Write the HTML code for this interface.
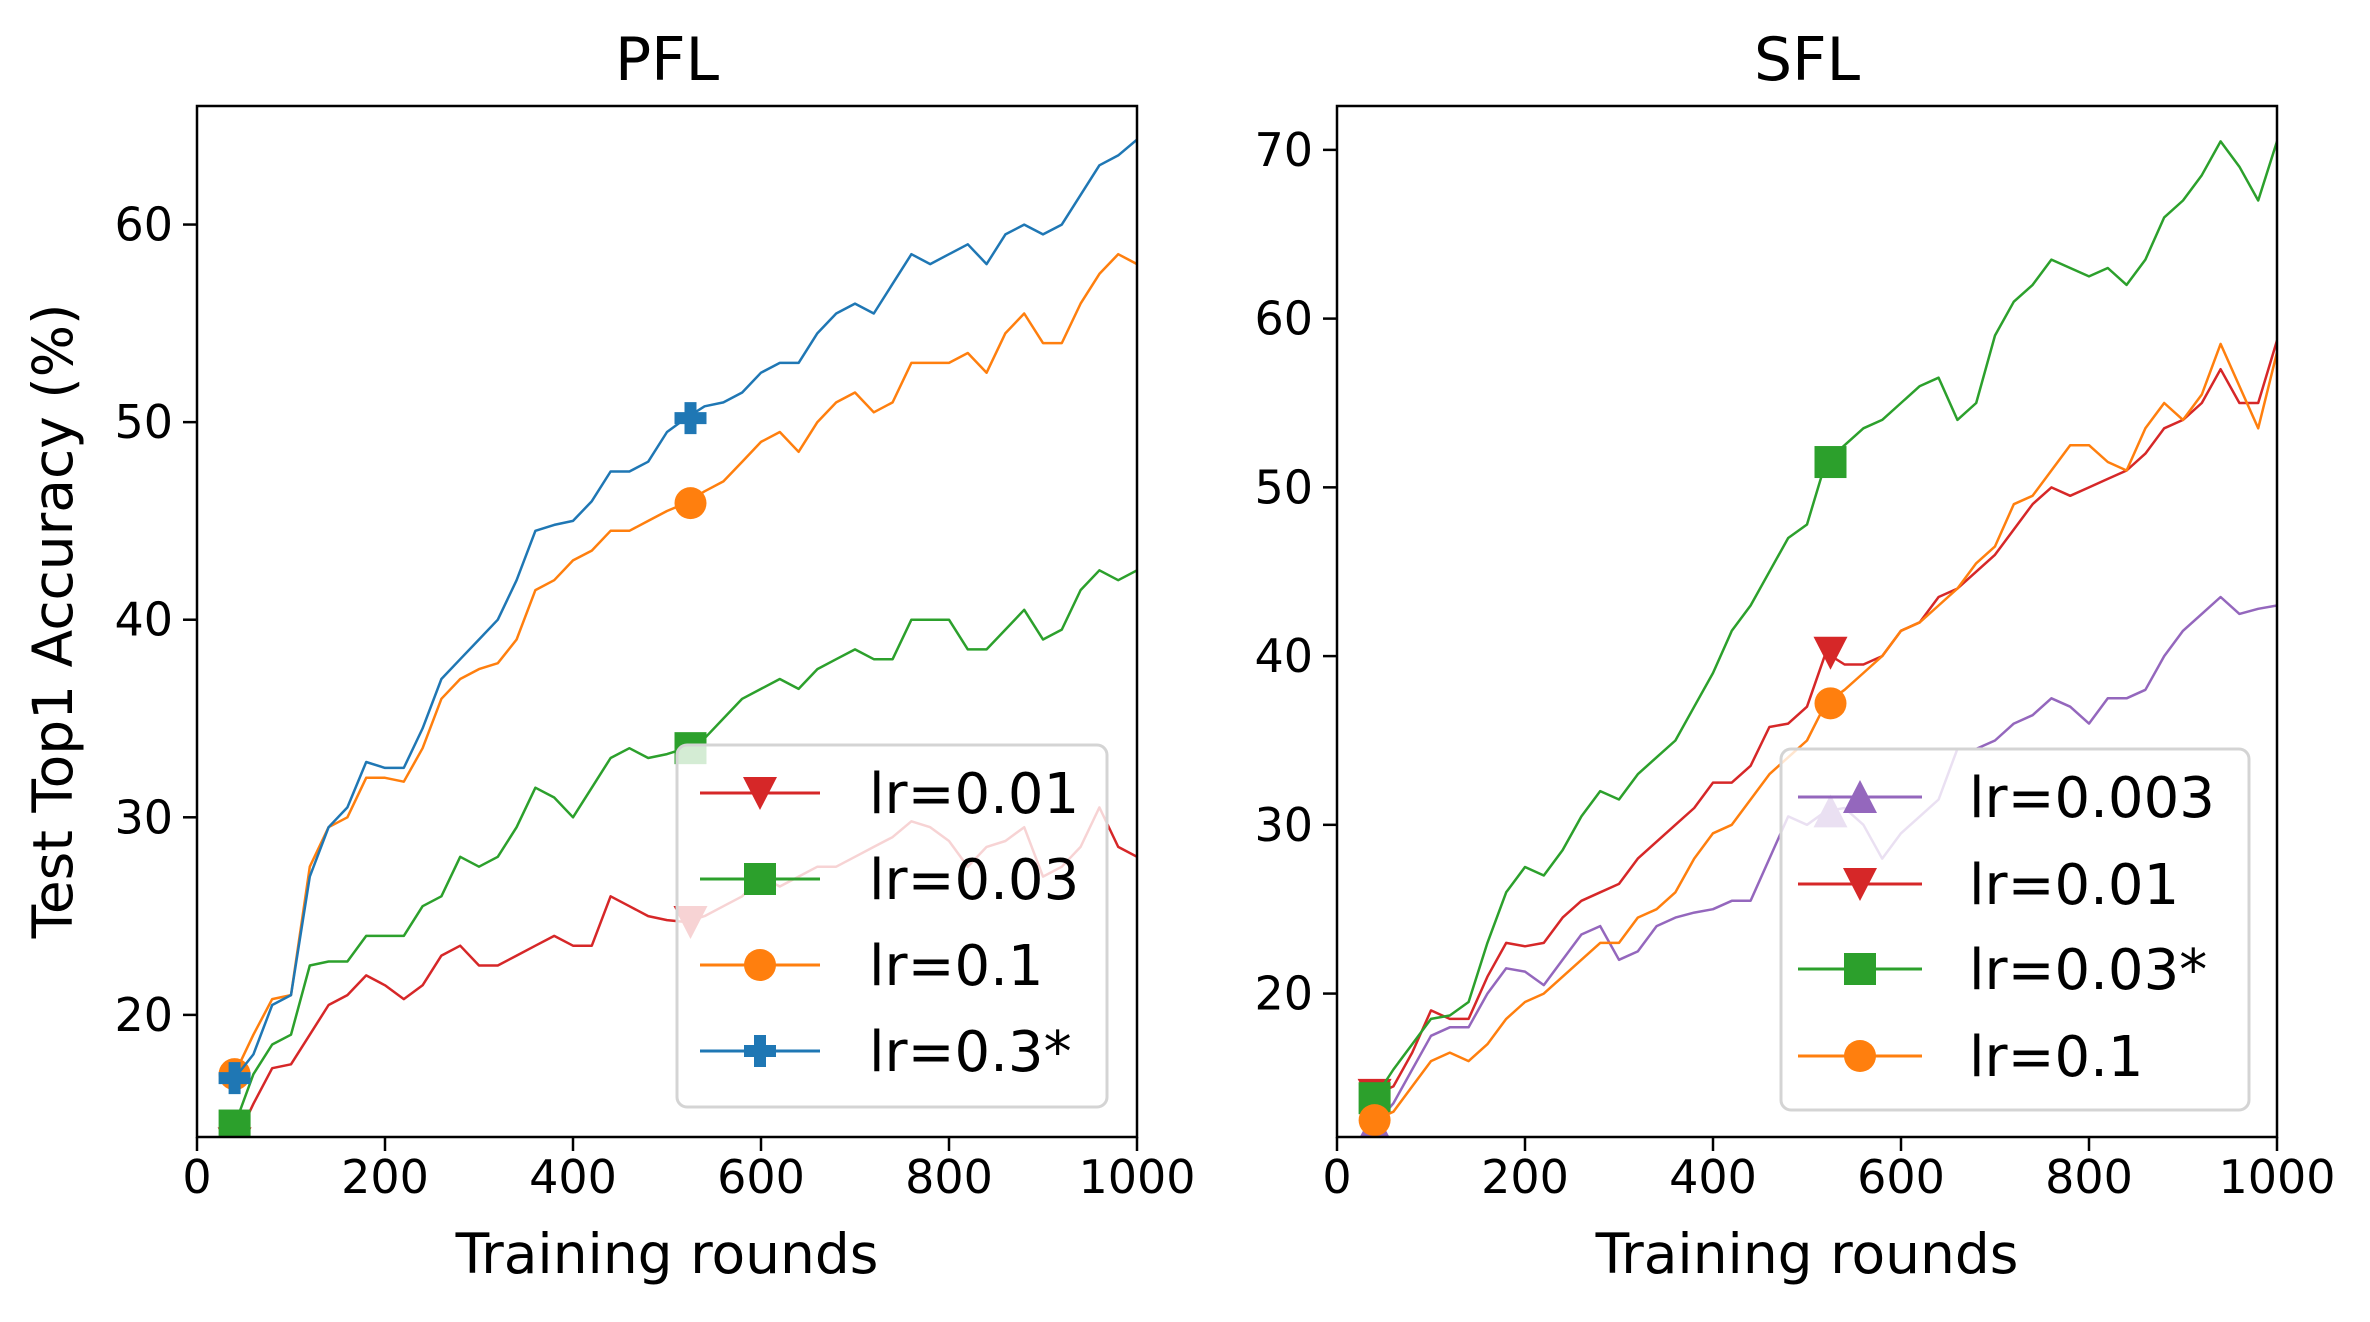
<!DOCTYPE html>
<html><head><meta charset="utf-8"><style>
html,body{margin:0;padding:0;background:#fff;}
svg text{font-family:"DejaVu Sans","Liberation Sans",sans-serif;fill:#000;}
</style></head>
<body>
<svg id="chart" width="2370" height="1317" viewBox="0 0 2370 1317" xmlns="http://www.w3.org/2000/svg"></svg>
<script>
const rounds = [40,60,80,100,120,140,160,180,200,220,240,260,280,300,320,340,360,380,400,420,440,460,480,500,520,540,560,580,600,620,640,660,680,700,720,740,760,780,800,820,840,860,880,900,920,940,960,980,1000];
const pflLr001 = [13.5,15.5,17.3,17.5,19,20.5,21,22,21.5,20.8,21.5,23,23.5,22.5,22.5,23,23.5,24,23.5,23.5,26,25.5,25,24.8,24.7,25,25.5,26,27,26.5,27,27.5,27.5,28,28.5,29,29.8,29.5,28.8,27.5,28.5,28.8,29.5,27,27.5,28.5,30.5,28.5,28];
const pflLr003 = [14.4,17,18.5,19,22.5,22.7,22.7,24,24,24,25.5,26,28,27.5,28,29.5,31.5,31,30,31.5,33,33.5,33,33.2,33.5,34,35,36,36.5,37,36.5,37.5,38,38.5,38,38,40,40,40,38.5,38.5,39.5,40.5,39,39.5,41.5,42.5,42,42.5];
const pflLr01 = [17,19,20.8,21,27.5,29.5,30,32,32,31.8,33.5,36,37,37.5,37.8,39,41.5,42,43,43.5,44.5,44.5,45,45.5,45.9,46.5,47,48,49,49.5,48.5,50,51,51.5,50.5,51,53,53,53,53.5,52.5,54.5,55.5,54,54,56,57.5,58.5,58];
const pflLr03 = [16.8,18,20.5,21,27,29.5,30.5,32.8,32.5,32.5,34.5,37,38,39,40,42,44.5,44.8,45,46,47.5,47.5,48,49.5,50.2,50.8,51,51.5,52.5,53,53,54.5,55.5,56,55.5,57,58.5,58,58.5,59,58,59.5,60,59.5,60,61.5,63,63.5,64.3];
const sflLr0003 = [12.2,13.5,15.5,17.5,18,18,20,21.5,21.3,20.5,22,23.5,24,22,22.5,24,24.5,24.8,25,25.5,25.5,28,30.5,30,30.8,31,30,28,29.5,30.5,31.5,34.5,34.5,35,36,36.5,37.5,37,36,37.5,37.5,38,40,41.5,42.5,43.5,42.5,42.8,43];
const sflLr001 = [14,14.5,16.5,19,18.5,18.5,21,23,22.8,23,24.5,25.5,26,26.5,28,29,30,31,32.5,32.5,33.5,35.8,36,37,40.2,39.5,39.5,40,41.5,42,43.5,44,45,46,47.5,49,50,49.5,50,50.5,51,52,53.5,54,55,57,55,55,58.7];
const sflLr003 = [13.8,15.5,17,18.5,18.7,19.5,23,26,27.5,27,28.5,30.5,32,31.5,33,34,35,37,39,41.5,43,45,47,47.8,51.5,52.5,53.5,54,55,56,56.5,54,55,59,61,62,63.5,63,62.5,63,62,63.5,66,67,68.5,70.5,69,67,70.5];
const sflLr01 = [12.5,13,14.5,16,16.5,16,17,18.5,19.5,20,21,22,23,23,24.5,25,26,28,29.5,30,31.5,33,34,35,37.2,38,39,40,41.5,42,43,44,45.5,46.5,49,49.5,51,52.5,52.5,51.5,51,53.5,55,54,55.5,58.5,56,53.5,58];
const xTicks = [0,200,400,600,800,1000];
const pflYTicks = [20,30,40,50,60];
const sflYTicks = [20,30,40,50,60,70];
const markerIdx = [0,24];
const markerRounds = [40,525];

const NS="http://www.w3.org/2000/svg";
const svg=document.getElementById('chart');
function mk(tag,attrs,parent){const e=document.createElementNS(NS,tag);for(const k in attrs)e.setAttribute(k,attrs[k]);(parent||svg).appendChild(e);return e;}

const C={red:'#d62728',green:'#2ca02c',orange:'#ff7f0e',blue:'#1f77b4',purple:'#9467bd'};

function marker(g,type,cx,cy,color){
  let m;
  if(type==='v'){m=mk('polygon',{points:`${cx-17},${cy-16} ${cx+17},${cy-16} ${cx},${cy+17}`,fill:color},g);}
  else if(type==='^'){m=mk('polygon',{points:`${cx-17},${cy+16} ${cx+17},${cy+16} ${cx},${cy-17}`,fill:color},g);}
  else if(type==='s'){m=mk('rect',{x:cx-16,y:cy-16,width:32,height:32,fill:color},g);}
  else if(type==='o'){m=mk('circle',{cx:cx,cy:cy,r:16,fill:color},g);}
  else {m=mk('path',{d:`M${cx-6},${cy-16}h12v10h10v12h-10v10h-12v-10h-10v-12h10z`,fill:color},g);}
  return m;
}

function panel(cfg){
  const {x0,x1,y0,y1,ymin,ymax,title,yTicks,series,legend,name}=cfg;
  const g=mk('g',{});
  
  
  const sx=v=>x0+(v-0)/(1000-0)*(x1-x0);
  const sy=v=>y1-(v-ymin)/(ymax-ymin)*(y1-y0);
  const clip=mk('clipPath',{id:'clip-'+name},g);
  mk('rect',{x:x0,y:y0,width:x1-x0,height:y1-y0},clip);
  const plot=mk('g',{'clip-path':`url(#clip-${name})`},g);
  series.forEach(s=>{
    const sg=mk('g',{},plot);
    
    
    const pts=rounds.map((r,i)=>`${sx(r).toFixed(1)},${sy(s.data[i]).toFixed(1)}`).join(' ');
    const pl=mk('polyline',{points:pts,fill:'none',stroke:s.color,'stroke-width':2.5,'stroke-linejoin':'round'},sg);
    
    
    markerIdx.forEach((i,k)=>{
      const m=marker(sg,s.m,sx(markerRounds[k]),sy(s.data[i]),s.color);
      
      
    });
  });
  const fr=mk('rect',{x:x0,y:y0,width:x1-x0,height:y1-y0,fill:'none',stroke:'#000','stroke-width':2.5},g);
  
  
  xTicks.forEach(t=>{
    const X=sx(t);
    mk('line',{x1:X,x2:X,y1:y1,y2:y1+14,stroke:'#000','stroke-width':2.5},g);
    const tx=mk('text',{x:X,y:y1+56,'font-size':46,'text-anchor':'middle'},g);
    tx.textContent=t;
    
    
  });
  yTicks.forEach(t=>{
    const Y=sy(t);
    mk('line',{x1:x0-14,x2:x0,y1:Y,y2:Y,stroke:'#000','stroke-width':2.5},g);
    const tx=mk('text',{x:x0-24,y:Y+16,'font-size':46,'text-anchor':'end'},g);
    tx.textContent=t;
    
    
  });
  const tt=mk('text',{x:(x0+x1)/2,y:80,'font-size':60,'text-anchor':'middle'},g);
  tt.textContent=title;
  
  
  const xl=mk('text',{x:(x0+x1)/2,y:1273,'font-size':55,'text-anchor':'middle'},g);
  xl.textContent='Training rounds';
  
  
  const lg=mk('g',{},g);
  
  
  mk('rect',{x:legend.x,y:legend.y,width:legend.w,height:legend.h,rx:10,fill:'#fff','fill-opacity':0.8,stroke:'#d4d4d4','stroke-width':3},lg);
  legend.items.forEach((it,i)=>{
    const ly=legend.rowY[i];
    const e=mk('g',{},lg);
    
    
    mk('line',{x1:legend.lx0,x2:legend.lx1,y1:ly,y2:ly,stroke:it.color,'stroke-width':3},e);
    marker(e,it.m,(legend.lx0+legend.lx1)/2,ly,it.color);
    const t=mk('text',{x:legend.tx,y:ly+20,'font-size':56},e);
    t.textContent=it.label;
  });
}

const pflSeries=[
  {label:'lr=0.01',data:pflLr001,color:C.red,m:'v'},
  {label:'lr=0.03',data:pflLr003,color:C.green,m:'s'},
  {label:'lr=0.1',data:pflLr01,color:C.orange,m:'o'},
  {label:'lr=0.3*',data:pflLr03,color:C.blue,m:'P'}];
panel({name:'pfl-panel',x0:197,x1:1137,y0:106,y1:1137,ymin:13.82,ymax:66.0,title:'PFL',yTicks:pflYTicks,series:pflSeries,
  legend:{x:677,y:745,w:430,h:362,lx0:700,lx1:820,tx:869,rowY:[793,879,965,1051],items:pflSeries}});

const sflSeries=[
  {label:'lr=0.003',data:sflLr0003,color:C.purple,m:'^'},
  {label:'lr=0.01',data:sflLr001,color:C.red,m:'v'},
  {label:'lr=0.03*',data:sflLr003,color:C.green,m:'s'},
  {label:'lr=0.1',data:sflLr01,color:C.orange,m:'o'}];
panel({name:'sfl-panel',x0:1337,x1:2277,y0:106,y1:1137,ymin:11.5,ymax:72.6,title:'SFL',yTicks:sflYTicks,series:sflSeries,
  legend:{x:1781,y:749,w:468,h:361,lx0:1798,lx1:1922,tx:1969,rowY:[797,884,969,1056],items:sflSeries}});

const yl=mk('text',{x:0,y:0,'font-size':55,'text-anchor':'middle',transform:'translate(72,621) rotate(-90)'});
yl.textContent='Test Top1 Accuracy (%)';


</script>
</body></html>
